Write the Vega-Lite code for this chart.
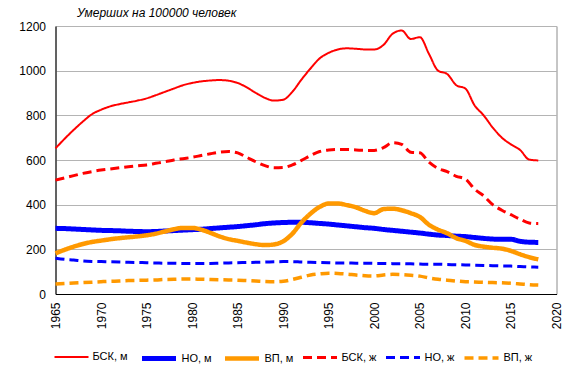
{
  "$schema": "https://vega.github.io/schema/vega-lite/v6.json",
  "width": 501,
  "height": 268,
  "autosize": {"type": "none"},
  "padding": {"left": 55.5, "top": 26, "right": 24.5, "bottom": 78},
  "title": {"text": "Умерших на 100000 человек", "anchor": "start", "frame": "group", "dx": 21.5, "offset": 0, "fontSize": 12, "fontStyle": "italic", "fontWeight": "normal", "color": "#000000"},
  "config": {
    "font": "Liberation Sans",
    "view": {"stroke": "#8c8c8c", "strokeWidth": 1},
    "axis": {"labelFont": "Liberation Sans", "labelColor": "#000000", "title": null}
  },
  "data": {"values": [
    {"year": 1965, "a": 652, "b": 294, "c": 182, "d": 510, "e": 160, "f": 45},
    {"year": 1966, "a": 695, "b": 293, "c": 198, "d": 520, "e": 155, "f": 47},
    {"year": 1967, "a": 735, "b": 291, "c": 212, "d": 530, "e": 152, "f": 49},
    {"year": 1968, "a": 772, "b": 289, "c": 224, "d": 540, "e": 148, "f": 51},
    {"year": 1969, "a": 805, "b": 287, "c": 233, "d": 548, "e": 146, "f": 53},
    {"year": 1970, "a": 825, "b": 285, "c": 239, "d": 555, "e": 145, "f": 55},
    {"year": 1971, "a": 840, "b": 284, "c": 245, "d": 560, "e": 144, "f": 57},
    {"year": 1972, "a": 850, "b": 283, "c": 250, "d": 565, "e": 143, "f": 58},
    {"year": 1973, "a": 858, "b": 281, "c": 254, "d": 570, "e": 142, "f": 60},
    {"year": 1974, "a": 866, "b": 280, "c": 258, "d": 574, "e": 141, "f": 61},
    {"year": 1975, "a": 876, "b": 279, "c": 263, "d": 578, "e": 140, "f": 62},
    {"year": 1976, "a": 890, "b": 280, "c": 270, "d": 585, "e": 139, "f": 63},
    {"year": 1977, "a": 905, "b": 282, "c": 280, "d": 592, "e": 138, "f": 65},
    {"year": 1978, "a": 920, "b": 284, "c": 290, "d": 600, "e": 138, "f": 66},
    {"year": 1979, "a": 935, "b": 286, "c": 296, "d": 606, "e": 137, "f": 67},
    {"year": 1980, "a": 945, "b": 288, "c": 296, "d": 612, "e": 137, "f": 67},
    {"year": 1981, "a": 952, "b": 290, "c": 288, "d": 620, "e": 137, "f": 66},
    {"year": 1982, "a": 956, "b": 293, "c": 274, "d": 628, "e": 137, "f": 65},
    {"year": 1983, "a": 958, "b": 296, "c": 258, "d": 635, "e": 138, "f": 64},
    {"year": 1984, "a": 955, "b": 299, "c": 246, "d": 638, "e": 139, "f": 63},
    {"year": 1985, "a": 945, "b": 302, "c": 238, "d": 632, "e": 140, "f": 62},
    {"year": 1986, "a": 925, "b": 306, "c": 230, "d": 612, "e": 141, "f": 60},
    {"year": 1987, "a": 900, "b": 310, "c": 223, "d": 592, "e": 142, "f": 58},
    {"year": 1988, "a": 878, "b": 315, "c": 219, "d": 575, "e": 143, "f": 56},
    {"year": 1989, "a": 866, "b": 318, "c": 222, "d": 565, "e": 144, "f": 55},
    {"year": 1990, "a": 870, "b": 320, "c": 236, "d": 566, "e": 145, "f": 57},
    {"year": 1991, "a": 905, "b": 321, "c": 270, "d": 578, "e": 145, "f": 65},
    {"year": 1992, "a": 960, "b": 321, "c": 320, "d": 598, "e": 143, "f": 75},
    {"year": 1993, "a": 1010, "b": 319, "c": 360, "d": 620, "e": 142, "f": 85},
    {"year": 1994, "a": 1055, "b": 316, "c": 390, "d": 638, "e": 141, "f": 90},
    {"year": 1995, "a": 1080, "b": 313, "c": 405, "d": 645, "e": 140, "f": 93},
    {"year": 1996, "a": 1095, "b": 309, "c": 405, "d": 647, "e": 139, "f": 92},
    {"year": 1997, "a": 1100, "b": 305, "c": 398, "d": 647, "e": 139, "f": 89},
    {"year": 1998, "a": 1098, "b": 301, "c": 388, "d": 645, "e": 138, "f": 85},
    {"year": 1999, "a": 1095, "b": 297, "c": 372, "d": 643, "e": 138, "f": 82},
    {"year": 2000, "a": 1095, "b": 294, "c": 362, "d": 643, "e": 137, "f": 81},
    {"year": 2001, "a": 1115, "b": 289, "c": 380, "d": 655, "e": 137, "f": 85},
    {"year": 2002, "a": 1165, "b": 285, "c": 382, "d": 677, "e": 136, "f": 88},
    {"year": 2003, "a": 1180, "b": 281, "c": 375, "d": 670, "e": 136, "f": 87},
    {"year": 2004, "a": 1142, "b": 277, "c": 362, "d": 635, "e": 135, "f": 84},
    {"year": 2005, "a": 1150, "b": 273, "c": 345, "d": 632, "e": 134, "f": 80},
    {"year": 2006, "a": 1075, "b": 268, "c": 310, "d": 590, "e": 133, "f": 72},
    {"year": 2007, "a": 1000, "b": 264, "c": 288, "d": 562, "e": 133, "f": 66},
    {"year": 2008, "a": 985, "b": 262, "c": 272, "d": 548, "e": 132, "f": 62},
    {"year": 2009, "a": 935, "b": 259, "c": 250, "d": 527, "e": 131, "f": 58},
    {"year": 2010, "a": 920, "b": 257, "c": 238, "d": 515, "e": 130, "f": 55},
    {"year": 2011, "a": 845, "b": 253, "c": 220, "d": 470, "e": 129, "f": 54},
    {"year": 2012, "a": 800, "b": 249, "c": 212, "d": 440, "e": 128, "f": 52},
    {"year": 2013, "a": 745, "b": 246, "c": 207, "d": 400, "e": 127, "f": 51},
    {"year": 2014, "a": 700, "b": 245, "c": 203, "d": 375, "e": 126, "f": 50},
    {"year": 2015, "a": 670, "b": 245, "c": 193, "d": 355, "e": 125, "f": 48},
    {"year": 2016, "a": 645, "b": 236, "c": 178, "d": 335, "e": 123, "f": 45},
    {"year": 2017, "a": 602, "b": 232, "c": 165, "d": 318, "e": 121, "f": 42},
    {"year": 2018, "a": 598, "b": 231, "c": 155, "d": 315, "e": 120, "f": 40}
  ]},
  "transform": [
    {"fold": ["a", "b", "c", "d", "e", "f"], "as": ["key", "value"]},
    {"lookup": "key", "from": {"data": {"values": [
      {"key": "a", "series": "БСК, м"},
      {"key": "b", "series": "НО, м"},
      {"key": "c", "series": "ВП, м"},
      {"key": "d", "series": "БСК, ж"},
      {"key": "e", "series": "НО, ж"},
      {"key": "f", "series": "ВП, ж"}
    ]}, "key": "key", "fields": ["series"]}}
  ],
  "mark": {"type": "line", "interpolate": "monotone"},
  "encoding": {
    "x": {
      "field": "year", "type": "quantitative",
      "scale": {"domain": [1965, 2020], "nice": false, "zero": false},
      "axis": {"values": [1965, 1970, 1975, 1980, 1985, 1990, 1995, 2000, 2005, 2010, 2015, 2020], "format": "d", "labelAngle": -90, "labelAlign": "right", "labelBaseline": "middle", "labelPadding": 8, "labelFontSize": 12, "ticks": false, "grid": false, "domainColor": "#000000", "domainWidth": 1, "labelOverlap": false, "labelFlush": false}
    },
    "y": {
      "field": "value", "type": "quantitative",
      "scale": {"domain": [0, 1200], "nice": false},
      "axis": {"values": [0, 200, 400, 600, 800, 1000, 1200], "format": "d", "labelFontSize": 12, "labelPadding": 10, "ticks": false, "grid": true, "gridColor": "#b4b4b4", "gridWidth": 1, "domainColor": "#000000", "domainWidth": 1}
    },
    "color": {
      "field": "series", "type": "nominal",
      "scale": {"domain": ["БСК, м", "НО, м", "ВП, м", "БСК, ж", "НО, ж", "ВП, ж"], "range": ["#ff0000", "#0000ff", "#ff9900", "#ff0000", "#0000ff", "#ff9900"]},
      "legend": {"title": null, "orient": "none", "legendX": -2, "legendY": 313, "direction": "horizontal", "symbolType": "stroke", "symbolSize": 1156, "labelFontSize": 11, "labelColor": "#000000", "labelOffset": 3, "columnPadding": 3, "gridAlign": "none", "padding": 0}
    },
    "strokeDash": {
      "field": "series", "type": "nominal",
      "scale": {"domain": ["БСК, м", "НО, м", "ВП, м", "БСК, ж", "НО, ж", "ВП, ж"], "range": [[1, 0], [1, 0], [1, 0], [9, 5], [9, 5], [9, 5]]}
    },
    "strokeWidth": {
      "field": "series", "type": "nominal",
      "scale": {"type": "ordinal", "domain": ["БСК, м", "НО, м", "ВП, м", "БСК, ж", "НО, ж", "ВП, ж"], "range": [2, 5, 4.5, 3, 3, 3.5]}
    }
  }
}
